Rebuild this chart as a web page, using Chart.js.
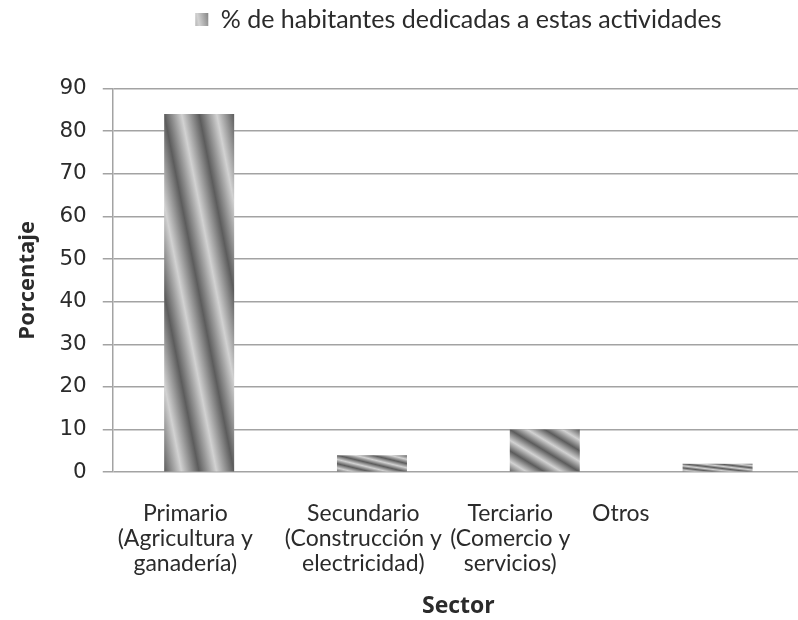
<!DOCTYPE html>
<html lang="es">
<head>
<meta charset="utf-8">
<title>Sector</title>
<script src="https://cdn.jsdelivr.net/npm/chart.js@4.4.1/dist/chart.umd.min.js"></script>
<style>
  html, body { margin: 0; padding: 0; background: #fff; overflow: hidden; }
  #wrap { width: 808px; height: 620px; }
</style>
</head>
<body>
<div id="wrap"><canvas id="grafico" width="808" height="620"></canvas></div>
<script>
// datos
const sectores = ['Primario', 'Secundario', 'Terciario', 'Otros'];
const porcentajes = [84, 4, 10, 2];
const etiquetas = [
    ['Primario', '(Agricultura y', 'ganadería)'],
    ['Secundario', '(Construcción y', 'electricidad)'],
    ['Terciario', '(Comercio y', 'servicios)'],
    ['Otros']
];
// en el original las etiquetas no quedan centradas bajo las barras
const posEtiqueta = [0.42, 1.45, 2.30, 2.94];
const ticksY = { min: 0, max: 90, paso: 10 };

const ANCHO_BARRA = 0.405;
const textoColor = '#2b2b2b';
const gris = '#a3a3a3';

// trama pequeña para la caja de la leyenda
function tramaLeyenda() {
    const c = document.createElement('canvas');
    c.width = 6; c.height = 6;
    const g = c.getContext('2d');
    const lg = g.createLinearGradient(6, 0, 0, 6);
    lg.addColorStop(0, '#cfcfcf');
    lg.addColorStop(0.25, '#6a6a6a');
    lg.addColorStop(0.5, '#cfcfcf');
    lg.addColorStop(0.75, '#6a6a6a');
    lg.addColorStop(1, '#cfcfcf');
    g.fillStyle = lg;
    g.fillRect(0, 0, 6, 6);
    return g.createPattern(c, 'repeat');
}
const trama = tramaLeyenda();

// relleno rayado en diagonal, estirado a la forma de cada barra
function rellenoBarra(ctx) {
    const chart = ctx.chart;
    const xs = chart.scales.x, ys = chart.scales.y;
    if (ctx.type !== 'data' || !xs || !ys || !chart.chartArea) return trama;
    const cx = xs.getPixelForValue(ctx.dataIndex);
    const w = (xs.width / sectores.length) * ANCHO_BARRA;
    const top = ys.getPixelForValue(ctx.raw);
    const base = ys.getPixelForValue(0);
    const h = Math.max(base - top, 1);
    const cy = (top + base) / 2;
    const n = Math.sqrt(w * w + h * h);
    const e = w * h / n;
    const ux = h / n, uy = -w / n;
    const g = chart.ctx.createLinearGradient(cx - e * ux, cy - e * uy, cx + e * ux, cy + e * uy);
    const ciclos = 4;
    for (let k = 0; k <= ciclos * 2; k++) {
        g.addColorStop(k / (ciclos * 2), k % 2 ? '#d2d2d2' : '#5c5c5c');
    }
    return g;
}

new Chart('grafico', {
    type: 'bar',
    data: {
        labels: sectores,
        datasets: [{
            label: '% de habitantes dedicadas a estas actividades',
            data: porcentajes,
            backgroundColor: rellenoBarra,
            borderWidth: 0,
            categoryPercentage: 1,
            barPercentage: ANCHO_BARRA
        }]
    },
    options: {
        responsive: false,
        animation: false,
        layout: { padding: { left: 11, right: 4, top: 4, bottom: 0 } },
        plugins: {
            legend: {
                position: 'top',
                fullSize: false,
                weight: 3000,
                labels: {
                    boxWidth: 13,
                    boxHeight: 13,
                    padding: 3,
                    color: textoColor,
                    font: { family: 'Lato', size: 25 }
                }
            },
            // separa la leyenda del area del grafico
            title: {
                display: true,
                text: '',
                font: { size: 12 },
                padding: { top: 0, bottom: 32 }
            },
            tooltip: { enabled: false }
        },
        scales: {
            x: {
                display: false,
                grid: { display: false }
            },
            xl: {
                type: 'linear',
                position: 'bottom',
                offset: false,
                min: 0,
                max: sectores.length,
                afterBuildTicks: function (ax) {
                    ax.ticks = posEtiqueta.map(v => ({ value: v }));
                },
                grid: { display: false, drawTicks: false },
                border: { display: false },
                ticks: {
                    autoSkip: false,
                    maxRotation: 0,
                    padding: 29,
                    color: textoColor,
                    font: { family: 'Lato', size: 23, lineHeight: 1.09 },
                    callback: function (v, i) { return etiquetas[i]; }
                },
                title: {
                    display: true,
                    text: 'Sector',
                    color: textoColor,
                    font: { family: 'Open Sans', size: 23, weight: 'bold' },
                    padding: { top: -13, bottom: 0 }
                }
            },
            y: {
                min: ticksY.min,
                max: ticksY.max,
                ticks: {
                    stepSize: ticksY.paso,
                    padding: 16,
                    color: textoColor,
                    font: { family: 'DejaVu Sans', size: 21.5 }
                },
                grid: { color: gris, lineWidth: 1.5, tickLength: 10 },
                border: { color: gris, width: 1.5 },
                title: {
                    display: true,
                    text: 'Porcentaje',
                    color: textoColor,
                    font: { family: 'Open Sans', size: 22, weight: 'bold' },
                    padding: { top: 4, bottom: 2 }
                }
            }
        }
    }
});
</script>
</body>
</html>
